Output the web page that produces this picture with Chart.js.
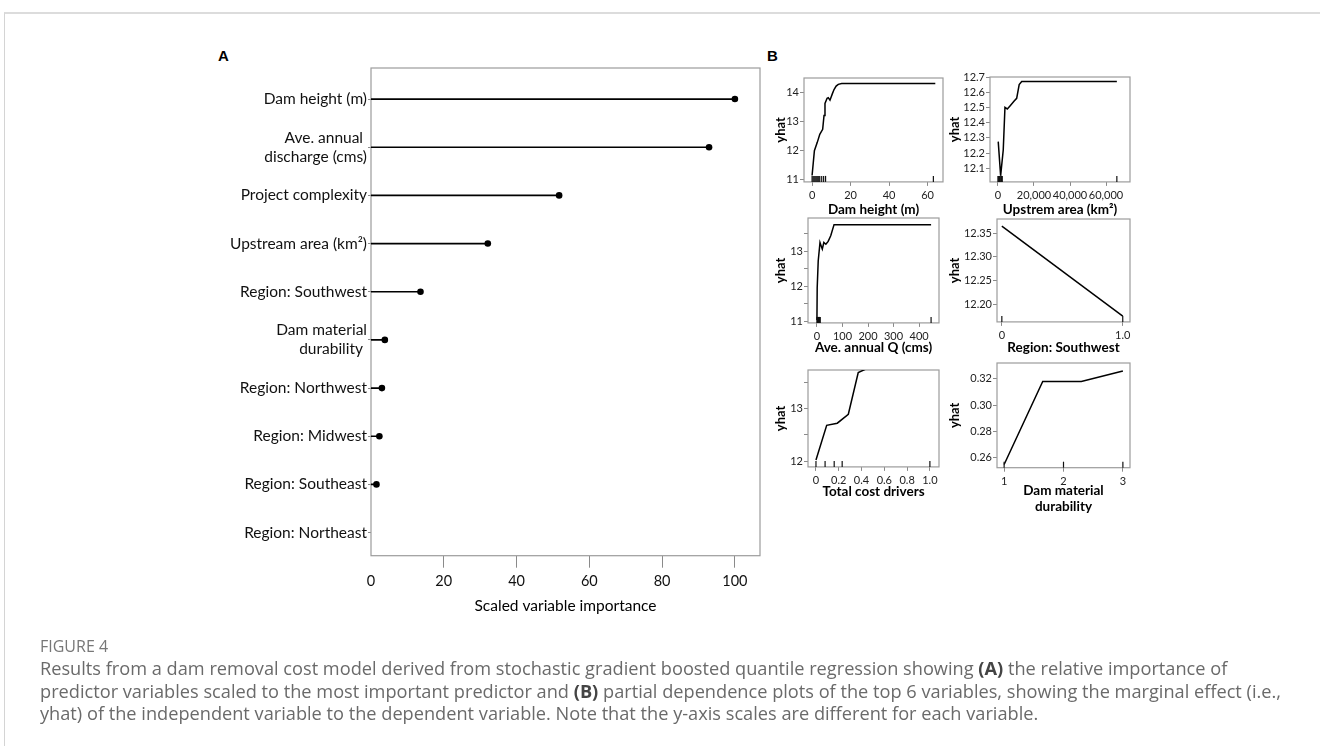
<!DOCTYPE html>
<html>
<head>
<meta charset="utf-8">
<script src="https://cdn.jsdelivr.net/npm/chart.js@4.4.1/dist/chart.umd.min.js"></script>
<style>
  html, body { margin: 0; padding: 0; background: #fff; }
  body { width: 1320px; height: 746px; position: relative; overflow: hidden; }
  .frame { position: absolute; left: 4px; top: 12px; right: 0; bottom: 0;
           border-top: 2px solid #dcdcdc; border-left: 1px solid #d4d4d4; }
  .tag { position: absolute; font: bold 15px "Liberation Sans", Arial, sans-serif; color: #000; }
  canvas { position: absolute; }
  .caption { position: absolute; left: 40px; top: 636px; font-family: "Open Sans", sans-serif; color: #6a6a6a; }
  .caption .fig { font-size: 16px; line-height: 20px; color: #777; }
  .caption .txt { font-size: 18.2px; line-height: 22.5px; margin-top: 1px; }
  .caption b { color: #444; }
</style>
</head>
<body>
<div class="frame"></div>
<div class="tag" style="left:218px; top:47px">A</div>
<div class="tag" style="left:767px; top:47px">B</div>

<canvas id="imp"></canvas>
<canvas id="pdHeight"></canvas>
<canvas id="pdArea"></canvas>
<canvas id="pdQ"></canvas>
<canvas id="pdSW"></canvas>
<canvas id="pdCost"></canvas>
<canvas id="pdMat"></canvas>

<div class="caption">
  <div class="fig">FIGURE 4</div>
  <div class="txt">Results from a dam removal cost model derived from stochastic gradient boosted quantile regression showing <b>(A)</b> the relative importance of<br>predictor variables scaled to the most important predictor and <b>(B)</b> partial dependence plots of the top 6 variables, showing the marginal effect (i.e.,<br>yhat) of the independent variable to the dependent variable. Note that the y-axis scales are different for each variable.</div>
</div>

<script>
/* =========================
   DATA
========================= */

// panel A - variable importance
const predictors = [
  "Dam height (m)",
  ["Ave. annual ", "discharge (cms)"],
  "Project complexity",
  "Upstream area (km²)",
  "Region: Southwest",
  ["Dam material", "durability "],
  "Region: Northwest",
  "Region: Midwest",
  "Region: Southeast",
  "Region: Northeast"
];
const importance = [100, 92.9, 51.7, 32.1, 13.6, 3.8, 3.0, 2.3, 1.5, 0];
const importanceTicks = [0, 20, 40, 60, 80, 100];

// panel B - partial dependence
const heightX = [0, 1.2, 2.7, 4.0, 5.5, 6.2, 6.7, 7.8, 8.4, 9.3, 10.5, 11.4, 12.5, 13.6, 15.4, 64];
const heightY = [11.12, 11.98, 12.27, 12.55, 12.72, 13.2, 13.62, 13.8, 13.82, 13.73, 13.95, 14.10, 14.22, 14.28, 14.31, 14.31];
const heightRug = [0, 0.5, 1, 1.5, 2, 2.5, 3, 3.5, 4, 5, 6, 7, 63];

const areaX = [170, 1500, 2950, 3900, 5200, 6700, 8900, 10400, 11800, 13200, 66000];
const areaY = [12.275, 12.05, 12.22, 12.50, 12.49, 12.51, 12.54, 12.56, 12.65, 12.67, 12.67];
const areaRug = [0, 400, 800, 1200, 1600, 2000, 2400, 66000];

const qX = [0, 1, 5, 12, 21, 27, 35, 44, 54, 67, 447];
const qY = [11.03, 11.95, 12.72, 13.25, 13.06, 13.25, 13.20, 13.28, 13.44, 13.76, 13.76];
const qRug = [0, 2, 4, 6, 8, 10, 13, 447];

const swX = [0, 1];
const swY = [12.365, 12.175];
const swRug = [0, 1];

const costX = [0, 0.094, 0.187, 0.284, 0.371, 0.459, 1.0];
const costY = [12.02, 12.68, 12.72, 12.89, 13.68, 13.77, 13.77];
const costRug = [0, 0.08, 0.16, 0.23, 1.0];

const matX = [1, 1.65, 2.3, 3];
const matY = [0.255, 0.318, 0.318, 0.326];
const matRug = [1, 2, 3];

/* =========================
   HELPERS
========================= */

const FONT = "Lato, 'Open Sans', sans-serif";
const PAD = 20;
const axisGray = "#8a8a8a";

// border round the plot area
const boxPlugin = {
  id: "box",
  beforeDatasetsDraw(chart) {
    const a = chart.chartArea, c = chart.ctx;
    c.save();
    c.strokeStyle = "#9c9c9c";
    c.lineWidth = 1.2;
    c.strokeRect(a.left, a.top, a.right - a.left, a.bottom - a.top);
    c.restore();
  }
};

// rug marks on the bottom edge
const rugPlugin = {
  id: "rug",
  afterDatasetsDraw(chart, args, opts) {
    if (!opts.values) return;
    const xs = chart.scales.x, a = chart.chartArea, c = chart.ctx;
    c.save();
    c.strokeStyle = "#111";
    c.lineWidth = 1.2;
    opts.values.forEach(v => {
      const px = xs.getPixelForValue(v);
      c.beginPath();
      c.moveTo(px, a.bottom);
      c.lineTo(px, a.bottom - 6);
      c.stroke();
    });
    c.restore();
  }
};

function place(el, left, top, w, h) {
  el.width = Math.round(w);
  el.height = Math.round(h);
  el.style.left = Math.round(left) + "px";
  el.style.top = Math.round(top) + "px";
  el.style.width = Math.round(w) + "px";
  el.style.height = Math.round(h) + "px";
}

function pdPlot(id, s) {
  const el = document.getElementById(id);
  const tSize = 13.5, lh = tSize * 1.2;
  const nLines = Array.isArray(s.xTitle) ? s.xTitle.length : 1;
  const left = Math.round(s.yTitleX - 4 - 7.8 - PAD);
  const yW = s.box.l - (left + PAD);
  const xH = s.xTitleY + lh / 2 + 1 + (nLines - 1) * lh - s.box.b;
  const top = s.box.t - PAD;
  place(el, left, top, s.box.r + PAD - left, s.box.b + xH + PAD - top);

  new Chart(el, {
    type: "scatter",
    data: {
      datasets: [{
        data: s.x.map((v, i) => ({ x: v, y: s.y[i] })),
        showLine: true,
        borderColor: "#000",
        borderWidth: 1.5,
        pointRadius: 0,
        tension: 0
      }]
    },
    options: {
      responsive: false,
      animation: false,
      layout: { padding: PAD },
      plugins: { legend: { display: false }, tooltip: { enabled: false }, rug: { values: s.rug } },
      scales: {
        x: {
          type: "linear", min: s.xMin, max: s.xMax,
          afterBuildTicks: sc => { sc.ticks = s.xTicks.map(v => ({ value: v })); },
          afterFit: sc => { sc.height = xH; },
          grid: { drawOnChartArea: false, drawTicks: true, tickLength: 4, color: axisGray },
          border: { display: false },
          ticks: { padding: 3, color: "#222", maxRotation: 0, autoSkip: false,
                   font: { family: FONT, size: 11 }, callback: s.xFmt },
          title: { display: true, text: s.xTitle, color: "#000", padding: { top: 0, bottom: 1 },
                   font: { family: FONT, size: tSize, weight: "bold" } }
        },
        y: {
          type: "linear", min: s.yMin, max: s.yMax,
          afterBuildTicks: sc => { sc.ticks = s.yTicks.map(v => ({ value: v })); },
          afterFit: sc => { sc.width = yW; },
          grid: { drawOnChartArea: false, drawTicks: true, tickLength: 4, color: axisGray },
          border: { display: false },
          ticks: { padding: 1, color: "#222", autoSkip: false,
                   font: { family: FONT, size: 11 }, callback: s.yFmt },
          title: { display: true, text: "yhat", color: "#000", padding: { top: 4, bottom: 0 },
                   font: { family: FONT, size: 13, weight: "bold" } }
        }
      }
    },
    plugins: [boxPlugin, rugPlugin]
  });
}

/* =========================
   PANEL A
========================= */

(function () {
  const el = document.getElementById("imp");
  const box = { l: 371, t: 68, r: 760, b: 556 };
  const left = 0;
  const xH = 606 + 9.3 + 2 - box.b;
  place(el, left, box.t - PAD, box.r + PAD - left, box.b + xH + PAD - (box.t - PAD));

  new Chart(el, {
    type: "scatter",
    data: {
      datasets: predictors.map((p, i) => ({
        data: [{ x: 0, y: i }, { x: importance[i], y: i }],
        showLine: true,
        borderColor: "#000",
        borderWidth: 1.7,
        pointRadius: [0, importance[i] > 0 ? 3.3 : 0],
        pointBackgroundColor: "#000",
        pointBorderWidth: 0
      }))
    },
    options: {
      responsive: false,
      animation: false,
      layout: { padding: PAD },
      plugins: { legend: { display: false }, tooltip: { enabled: false } },
      scales: {
        x: {
          type: "linear", min: 0, max: 106.9,
          afterBuildTicks: sc => { sc.ticks = importanceTicks.map(v => ({ value: v })); },
          afterFit: sc => { sc.height = xH; },
          grid: { drawOnChartArea: false, drawTicks: true, tickLength: 12,
                  color: ctx => ctx.tick && ctx.tick.value === 0 ? "rgba(0,0,0,0)" : axisGray },
          border: { display: false },
          ticks: { padding: 5, color: "#111", maxRotation: 0, autoSkip: false, font: { family: FONT, size: 14.5 } },
          title: { display: true, text: "Scaled variable importance", color: "#000",
                   padding: { top: 0, bottom: 2 }, font: { family: FONT, size: 15.5 } }
        },
        y: {
          type: "linear", reverse: true, min: -0.645, max: 9.48,
          afterBuildTicks: sc => { sc.ticks = predictors.map((p, i) => ({ value: i })); },
          afterFit: sc => { sc.width = box.l - (left + PAD); },
          grid: { drawOnChartArea: false, drawTicks: true, tickLength: 3, color: axisGray },
          border: { display: false },
          ticks: { padding: 1, color: "#111", autoSkip: false, font: { family: FONT, size: 15.5, lineHeight: 1.22 },
                   callback: v => predictors[v] }
        }
      }
    },
    plugins: [boxPlugin]
  });
})();

/* =========================
   PANEL B
========================= */

const intFmt = v => (Number.isInteger(v) ? String(v) : "");

pdPlot("pdHeight", {
  box: { l: 804, t: 78, r: 943, b: 182 }, yTitleX: 781, xTitleY: 210,
  x: heightX, y: heightY, rug: heightRug,
  xMin: -4.2, xMax: 68, xTicks: [0, 20, 40, 60], xFmt: v => String(v),
  yMin: 10.9, yMax: 14.5, yTicks: [11, 12, 13, 14], yFmt: v => String(v),
  xTitle: "Dam height (m)"
});

pdPlot("pdArea", {
  box: { l: 990, t: 77, r: 1130, b: 182 }, yTitleX: 955, xTitleY: 210,
  x: areaX, y: areaY, rug: areaRug,
  xMin: -4400, xMax: 73300, xTicks: [0, 20000, 40000, 60000], xFmt: v => v.toLocaleString("en-US"),
  yMin: 12.01, yMax: 12.7, yTicks: [12.1, 12.2, 12.3, 12.4, 12.5, 12.6, 12.7], yFmt: v => v.toFixed(1),
  xTitle: "Upstrem area (km²)"
});

pdPlot("pdQ", {
  box: { l: 808, t: 218, r: 939, b: 323 }, yTitleX: 781, xTitleY: 348,
  x: qX, y: qY, rug: qRug,
  xMin: -35, xMax: 478, xTicks: [0, 100, 200, 300, 400], xFmt: v => String(v),
  yMin: 10.95, yMax: 13.95, yTicks: [11, 11.5, 12, 12.5, 13, 13.5], yFmt: intFmt,
  xTitle: "Ave. annual Q (cms)"
});

pdPlot("pdSW", {
  box: { l: 997, t: 219, r: 1130, b: 322 }, yTitleX: 955, xTitleY: 348,
  x: swX, y: swY, rug: swRug,
  xMin: -0.04, xMax: 1.06, xTicks: [0, 1], xFmt: v => (v === 0 ? "0" : v.toFixed(1)),
  yMin: 12.163, yMax: 12.38, yTicks: [12.2, 12.25, 12.3, 12.35], yFmt: v => v.toFixed(2),
  xTitle: "Region: Southwest"
});

pdPlot("pdCost", {
  box: { l: 808, t: 370, r: 939, b: 467 }, yTitleX: 781, xTitleY: 492,
  x: costX, y: costY, rug: costRug,
  xMin: -0.07, xMax: 1.08, xTicks: [0, 0.2, 0.4, 0.6, 0.8, 1.0],
  xFmt: v => (v === 0 ? "0" : v.toFixed(1)),
  yMin: 11.89, yMax: 13.73, yTicks: [12, 12.5, 13, 13.5], yFmt: intFmt,
  xTitle: "Total cost drivers"
});

pdPlot("pdMat", {
  box: { l: 997, t: 363, r: 1130, b: 468 }, yTitleX: 955, xTitleY: 491,
  x: matX, y: matY, rug: matRug,
  xMin: 0.88, xMax: 3.12, xTicks: [1, 2, 3], xFmt: v => String(v),
  yMin: 0.2526, yMax: 0.332, yTicks: [0.26, 0.28, 0.3, 0.32], yFmt: v => v.toFixed(2),
  xTitle: ["Dam material", "durability"]
});
</script>
</body>
</html>
